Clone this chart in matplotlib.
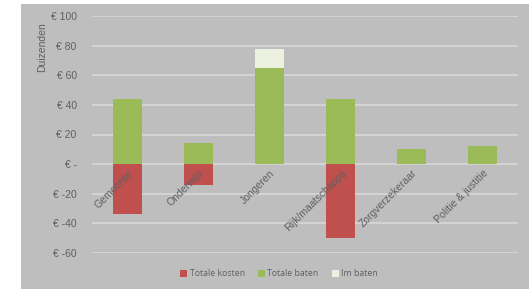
"""Gestapelde kosten/baten per partij."""

import matplotlib

matplotlib.use("Agg")
import matplotlib.pyplot as plt
from matplotlib.patches import Rectangle
from matplotlib.ticker import FuncFormatter

# gegevens (in duizenden euro's)
partijen = ["Gemeente", "Onderwijs", "Jongeren", "Rijk/maatschappij",
            "Zorgverzekeraar", "Politie & justitie"]
totale_kosten = [-34, -14, 0, -50, 0, 0]
totale_baten = [44, 14, 65, 44, 10, 12]
im_baten = [0, 0, 13, 0, 0, 0]

y_ticks = [-60, -40, -20, 0, 20, 40, 60, 80, 100]

kleur_kosten = "#C0504D"
kleur_baten = "#9BBB59"
kleur_im = "#EBF1DE"
achtergrond = "#BEBEBE"
tekstkleur = "#606060"

plt.rcParams["font.family"] = ["Liberation Sans", "DejaVu Sans"]

fig = plt.figure(figsize=(5.29, 2.89), dpi=100, facecolor="white")
fig.patches.append(Rectangle((21 / 529, 0), 1, 1 - 4 / 289,
                             transform=fig.transFigure, facecolor=achtergrond,
                             edgecolor="none", zorder=-10))

ax = fig.add_axes([92 / 529, 1 - 253 / 289, 426 / 529, 237 / 289])
ax.set_facecolor("none")
ax.set_zorder(5)
ax.set_axisbelow(False)

# rasterlijnen onder de staven, labels erboven
for waarde in y_ticks:
    ax.axhline(waarde, color="#D8D8D8", linewidth=1.2, zorder=1)

x = range(len(partijen))
breedte = 0.4
ax.bar(x, totale_kosten, breedte, color=kleur_kosten, label="Totale kosten", zorder=2)
ax.bar(x, totale_baten, breedte, color=kleur_baten, label="Totale baten", zorder=2)
ax.bar(x, im_baten, breedte, bottom=totale_baten, color=kleur_im,
       label="Im baten", zorder=2)

ax.set_xlim(-0.5, len(partijen) - 0.5)
ax.set_ylim(-60, 100)
ax.set_yticks(y_ticks)
ax.yaxis.set_major_formatter(
    FuncFormatter(lambda v, _: "€ -" if v == 0 else f"€ {v:.0f}"))

ax.spines["bottom"].set_position(("data", 0))
for kant in ["top", "right", "left", "bottom"]:
    ax.spines[kant].set_visible(False)

ax.set_xticks(list(x))
ax.set_xticklabels(partijen, rotation=45, ha="right", va="top",
                   rotation_mode="anchor", fontsize=7.5, color=tekstkleur)
ax.tick_params(axis="x", length=0, pad=3)
ax.tick_params(axis="y", length=0, pad=11, labelsize=7.5, labelcolor=tekstkleur)

fig.text(42 / 529, 1 - 47 / 289, "Duizenden", rotation=90, ha="center",
         va="center", fontsize=7.5, color=tekstkleur)

ax.legend(loc="center", bbox_to_anchor=(279 / 529, 1 - 274 / 289),
          bbox_transform=fig.transFigure, ncol=3, frameon=False,
          handlelength=0.8, handleheight=0.8,
          handletextpad=0.3, columnspacing=1.5, labelcolor=tekstkleur,
          prop={"family": ["Open Sans", "DejaVu Sans"], "size": 6.3})

fig.savefig("out.png", dpi=100, facecolor=fig.get_facecolor())
